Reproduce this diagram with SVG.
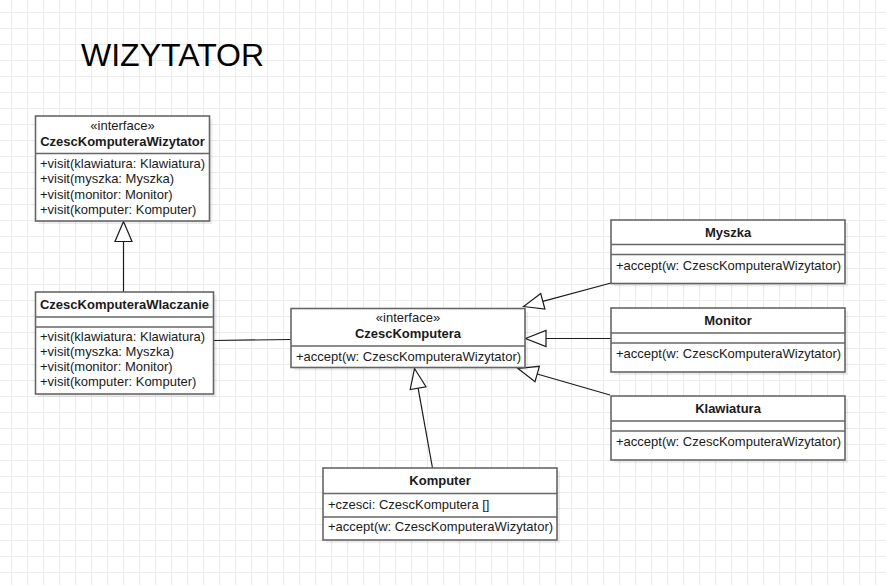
<svg xmlns="http://www.w3.org/2000/svg" width="886" height="585" viewBox="0 0 886 585">
  <defs>
    <pattern id="grid" patternUnits="userSpaceOnUse" x="11" y="12" width="16" height="16">
      <path d="M0.5 0V16M0 0.5H16" stroke="#ebebeb" stroke-width="1" fill="none"/>
    </pattern>
  </defs>
  <style>
    .box { fill: #ffffff; stroke: #666666; stroke-width: 1.6; }
    .shadow { fill: #000000; fill-opacity: 0.07; stroke: none; }
    .div { stroke: #666666; stroke-width: 1.6; }
    .hdr { font-family: "Liberation Sans", Arial, sans-serif; font-size: 13px; font-weight: bold; fill: #1a1a1a; text-anchor: middle; }
    .st { font-family: "Liberation Sans", Arial, sans-serif; font-size: 13px; fill: #1a1a1a; text-anchor: middle; }
    .mem { font-family: "Liberation Sans", Arial, sans-serif; font-size: 13px; fill: #1a1a1a; }
    .title { font-family: "Liberation Sans", Arial, sans-serif; font-size: 32px; fill: #000000; }
    .edge { stroke: #1a1a1a; stroke-width: 1.2; fill: none; }
    .tri { stroke: #1a1a1a; stroke-width: 1.2; fill: #ffffff; }
  </style>
  <rect width="886" height="585" fill="#ffffff"/>
  <rect width="886" height="585" fill="url(#grid)"/>

  <text class="title" x="81" y="66">WIZYTATOR</text>

  <g id="connectors">
    <line class="edge" x1="123.5" y1="292" x2="123.5" y2="241.5"/>
    <polygon class="tri" points="123.5,221.5 115,241.5 132,241.5"/>
    <line class="edge" x1="213.5" y1="340.5" x2="291" y2="339.5"/>
    <line class="edge" x1="611" y1="283" x2="542.8" y2="301.3"/>
    <polygon class="tri" points="523.5,306.5 544.9,309 540.7,293.6"/>
    <line class="edge" x1="611" y1="338.5" x2="546" y2="338.5"/>
    <polygon class="tri" points="525.5,338.5 546,330.5 546,346.5"/>
    <line class="edge" x1="610" y1="395" x2="537.2" y2="374"/>
    <polygon class="tri" points="518,368.5 535,381.7 539.4,366.3"/>
    <line class="edge" x1="432.5" y1="468" x2="418.1" y2="388.2"/>
    <polygon class="tri" points="414.5,368.5 426,386.8 410.2,389.6"/>
  </g>

  <g id="CzescKomputeraWizytator">
    <rect class="shadow" x="38.5" y="119" width="174" height="105"/>
    <rect class="box" x="35.5" y="116" width="174" height="105"/>
    <line class="div" x1="35.5" y1="153.5" x2="209.5" y2="153.5"/>
    <text class="st" x="122.5" y="130">«interface»</text>
    <text class="hdr" x="122.5" y="146">CzescKomputeraWizytator</text>
    <text class="mem" x="40" y="168">+visit(klawiatura: Klawiatura)</text>
    <text class="mem" x="40" y="183">+visit(myszka: Myszka)</text>
    <text class="mem" x="40" y="198.5">+visit(monitor: Monitor)</text>
    <text class="mem" x="40" y="213.5">+visit(komputer: Komputer)</text>
  </g>

  <g id="CzescKomputeraWlaczanie">
    <rect class="shadow" x="38.5" y="295" width="178" height="102"/>
    <rect class="box" x="35.5" y="292" width="178" height="102"/>
    <line class="div" x1="35.5" y1="317" x2="213.5" y2="317"/>
    <line class="div" x1="35.5" y1="327" x2="213.5" y2="327"/>
    <text class="hdr" x="124.5" y="308.5">CzescKomputeraWlaczanie</text>
    <text class="mem" x="40" y="341">+visit(klawiatura: Klawiatura)</text>
    <text class="mem" x="40" y="356">+visit(myszka: Myszka)</text>
    <text class="mem" x="40" y="371">+visit(monitor: Monitor)</text>
    <text class="mem" x="40" y="386">+visit(komputer: Komputer)</text>
  </g>

  <g id="CzescKomputera">
    <rect class="shadow" x="294" y="311.5" width="234" height="59"/>
    <rect class="box" x="291" y="308.5" width="234" height="59"/>
    <line class="div" x1="291" y1="346" x2="525" y2="346"/>
    <text class="st" x="408" y="321.5">«interface»</text>
    <text class="hdr" x="408" y="337.5">CzescKomputera</text>
    <text class="mem" x="296" y="360.5">+accept(w: CzescKomputeraWizytator)</text>
  </g>

  <g id="Myszka">
    <rect class="shadow" x="614" y="223" width="234" height="63.5"/>
    <rect class="box" x="611" y="220" width="234" height="63.5"/>
    <line class="div" x1="611" y1="244.5" x2="845" y2="244.5"/>
    <line class="div" x1="611" y1="254.5" x2="845" y2="254.5"/>
    <text class="hdr" x="728" y="236.5">Myszka</text>
    <text class="mem" x="616" y="269.5">+accept(w: CzescKomputeraWizytator)</text>
  </g>

  <g id="Monitor">
    <rect class="shadow" x="614" y="311" width="234" height="64"/>
    <rect class="box" x="611" y="308" width="234" height="64"/>
    <line class="div" x1="611" y1="333" x2="845" y2="333"/>
    <line class="div" x1="611" y1="343" x2="845" y2="343"/>
    <text class="hdr" x="728" y="324.5">Monitor</text>
    <text class="mem" x="616" y="357.5">+accept(w: CzescKomputeraWizytator)</text>
  </g>

  <g id="Klawiatura">
    <rect class="shadow" x="614" y="399" width="234" height="64"/>
    <rect class="box" x="611" y="396" width="234" height="64"/>
    <line class="div" x1="611" y1="421" x2="845" y2="421"/>
    <line class="div" x1="611" y1="431" x2="845" y2="431"/>
    <text class="hdr" x="728" y="412.5">Klawiatura</text>
    <text class="mem" x="616" y="445.5">+accept(w: CzescKomputeraWizytator)</text>
  </g>

  <g id="Komputer">
    <rect class="shadow" x="326" y="471" width="234" height="72"/>
    <rect class="box" x="323" y="468" width="234" height="72"/>
    <line class="div" x1="323" y1="493.5" x2="557" y2="493.5"/>
    <line class="div" x1="323" y1="517" x2="557" y2="517"/>
    <text class="hdr" x="440" y="484.5">Komputer</text>
    <text class="mem" x="328" y="508.5">+czesci: CzescKomputera []</text>
    <text class="mem" x="328" y="531">+accept(w: CzescKomputeraWizytator)</text>
  </g>
</svg>
